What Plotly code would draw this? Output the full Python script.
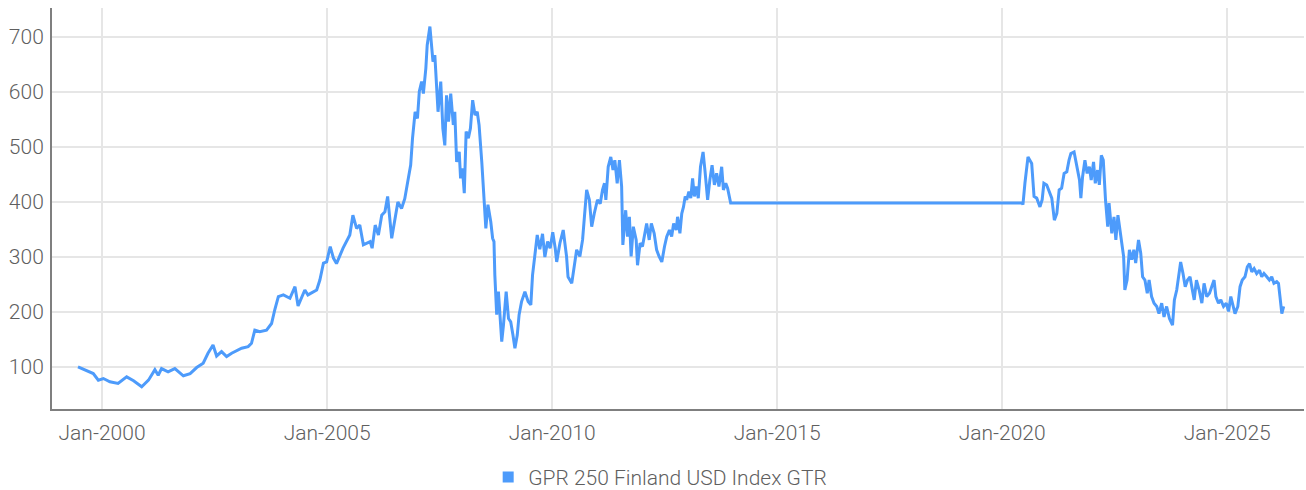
import plotly.graph_objects as go

SERIES_NAME = "GPR 250 Finland USD Index GTR"

dates = [
    "1999-06-20", "1999-08-14", "1999-10-22", "1999-12-02", "2000-01-12", "2000-03-05", "2000-05-10",
    "2000-07-19", "2000-09-13", "2000-11-18", "2001-01-12", "2001-03-05", "2001-04-01", "2001-04-28",
    "2001-06-20", "2001-08-14", "2001-10-22", "2001-12-16", "2002-02-07", "2002-04-01", "2002-05-10",
    "2002-06-20", "2002-07-19", "2002-08-28", "2002-10-08", "2002-11-18", "2003-02-07", "2003-04-01",
    "2003-04-28", "2003-05-25", "2003-07-04", "2003-08-28", "2003-10-08", "2003-11-03", "2003-12-02",
    "2004-01-12", "2004-03-05", "2004-04-15", "2004-05-10", "2004-07-04", "2004-07-29", "2004-10-08",
    "2004-11-03", "2004-12-02", "2004-12-28", "2005-01-26", "2005-02-21", "2005-03-18", "2005-05-10",
    "2005-07-04", "2005-07-29", "2005-08-28", "2005-09-23", "2005-10-22", "2005-12-16", "2006-01-01",
    "2006-01-26", "2006-02-21", "2006-03-20", "2006-04-15", "2006-05-07", "2006-06-09", "2006-07-04",
    "2006-07-29", "2006-08-28", "2006-09-23", "2006-10-22", "2006-11-10", "2006-11-25", "2006-12-16",
    "2007-01-04", "2007-01-19", "2007-02-07", "2007-02-21", "2007-03-13", "2007-03-24", "2007-04-15",
    "2007-04-28", "2007-05-10", "2007-05-25", "2007-06-09", "2007-06-20", "2007-07-12", "2007-07-29",
    "2007-08-14", "2007-08-28", "2007-09-13", "2007-10-01", "2007-10-22", "2007-11-03", "2007-11-18",
    "2007-12-09", "2007-12-20", "2008-01-04", "2008-01-19", "2008-02-03", "2008-02-21", "2008-03-09",
    "2008-03-27", "2008-04-15", "2008-05-03", "2008-05-18", "2008-06-09", "2008-06-27", "2008-07-12",
    "2008-07-29", "2008-08-21", "2008-09-05", "2008-09-16", "2008-09-23", "2008-10-08", "2008-10-22",
    "2008-11-03", "2008-11-18", "2008-12-02", "2008-12-24", "2009-01-12", "2009-01-30", "2009-02-17",
    "2009-03-05", "2009-03-24", "2009-04-08", "2009-04-28", "2009-05-25", "2009-06-20", "2009-07-12",
    "2009-07-26", "2009-08-14", "2009-09-02", "2009-09-23", "2009-10-15", "2009-11-03", "2009-11-25",
    "2009-12-16", "2010-01-06", "2010-01-26", "2010-02-07", "2010-03-05", "2010-04-01", "2010-04-28",
    "2010-05-10", "2010-06-09", "2010-06-27", "2010-07-19", "2010-08-14", "2010-09-05", "2010-09-20",
    "2010-10-08", "2010-10-30", "2010-11-18", "2010-12-09", "2011-01-04", "2011-01-26", "2011-02-14",
    "2011-03-02", "2011-03-13", "2011-04-01", "2011-04-22", "2011-05-10", "2011-05-25", "2011-06-13",
    "2011-07-01", "2011-07-19", "2011-07-29", "2011-08-21", "2011-09-05", "2011-09-20", "2011-10-04",
    "2011-10-22", "2011-11-14", "2011-11-25", "2011-12-16", "2012-01-04", "2012-01-26", "2012-02-07",
    "2012-02-28", "2012-03-16", "2012-04-08", "2012-04-28", "2012-05-18", "2012-06-09", "2012-07-01",
    "2012-07-19", "2012-08-10", "2012-08-28", "2012-09-13", "2012-10-04", "2012-10-15", "2012-11-03",
    "2012-11-18", "2012-12-02", "2012-12-16", "2012-12-28", "2013-01-15", "2013-01-30", "2013-02-14",
    "2013-02-28", "2013-03-16", "2013-04-01", "2013-04-19", "2013-05-10", "2013-05-25", "2013-06-16",
    "2013-07-04", "2013-07-22", "2013-08-10", "2013-08-28", "2013-09-16", "2013-10-08", "2013-10-22",
    "2013-11-10", "2013-11-25", "2013-12-13", "2013-12-20", "2020-06-12", "2020-06-18", "2020-07-04",
    "2020-07-29", "2020-08-28", "2020-09-16", "2020-10-08", "2020-11-03", "2020-11-21", "2020-12-05",
    "2020-12-28", "2021-01-19", "2021-02-07", "2021-02-28", "2021-03-20", "2021-04-08", "2021-04-28",
    "2021-05-18", "2021-06-09", "2021-06-27", "2021-07-12", "2021-08-07", "2021-08-28", "2021-09-20",
    "2021-10-01", "2021-10-15", "2021-11-03", "2021-11-21", "2021-12-09", "2021-12-24", "2022-01-12",
    "2022-01-26", "2022-02-14", "2022-02-28", "2022-03-16", "2022-04-01", "2022-04-19", "2022-05-07",
    "2022-05-18", "2022-06-09", "2022-06-27", "2022-07-12", "2022-07-29", "2022-08-21", "2022-09-13",
    "2022-09-23", "2022-10-11", "2022-10-30", "2022-11-18", "2022-12-05", "2022-12-20", "2023-01-12",
    "2023-01-30", "2023-02-14", "2023-03-05", "2023-03-24", "2023-04-08", "2023-04-28", "2023-05-18",
    "2023-06-09", "2023-06-27", "2023-07-19", "2023-08-07", "2023-08-28", "2023-09-20", "2023-10-15",
    "2023-10-30", "2023-11-18", "2023-12-09", "2023-12-20", "2024-01-08", "2024-01-26", "2024-02-14",
    "2024-03-05", "2024-03-24", "2024-04-08", "2024-04-26", "2024-05-18", "2024-06-09", "2024-06-27",
    "2024-07-19", "2024-08-10", "2024-08-28", "2024-09-16", "2024-10-01", "2024-10-22", "2024-11-10",
    "2024-12-02", "2024-12-24", "2025-01-12", "2025-01-30", "2025-02-17", "2025-03-05", "2025-03-28",
    "2025-04-15", "2025-05-03", "2025-05-25", "2025-06-13", "2025-07-01", "2025-07-19", "2025-08-07",
    "2025-08-28", "2025-09-20", "2025-10-08", "2025-10-26", "2025-11-18", "2025-12-09", "2025-12-28",
    "2026-01-15", "2026-02-07", "2026-02-21", "2026-03-05", "2026-03-20", "2026-04-04",
]

values = [
    100, 95, 88, 76, 79, 73, 70,
    82, 75, 64, 76, 95, 85, 97,
    91, 97, 84, 88, 99, 107, 125,
    140, 120, 128, 119, 125, 134, 137,
    143, 167, 164, 167, 179, 204, 228,
    231, 225, 246, 211, 240, 231, 240,
    258, 289, 291, 319, 298, 288, 316,
    340, 376, 352, 358, 322, 328, 316,
    358, 340, 376, 382, 410, 334, 364,
    400, 388, 406, 443, 467, 516, 564,
    552, 601, 619, 597, 643, 685, 719,
    692, 655, 667, 601, 564, 619, 534,
    503, 594, 546, 597, 540, 564, 473,
    491, 443, 461, 416, 528, 516, 534,
    585, 558, 564, 540, 473, 410, 352,
    395, 364, 334, 328, 267, 195, 237,
    188, 146, 176, 237, 188, 182, 158,
    134, 158, 195, 219, 237, 219, 213,
    267, 304, 340, 314, 342, 300, 328,
    316, 345, 316, 291, 325, 349, 301,
    264, 252, 276, 313, 301, 331, 373,
    422, 404, 355, 379, 404, 397, 422,
    434, 404, 464, 482, 458, 476, 434,
    476, 428, 322, 385, 337, 373, 301,
    355, 331, 285, 325, 319, 349, 361,
    331, 361, 343, 313, 301, 291, 319,
    337, 349, 337, 361, 349, 373, 343,
    379, 391, 410, 404, 419, 407, 443,
    410, 428, 407, 464, 491, 458, 404,
    440, 467, 431, 452, 428, 464, 422,
    434, 425, 401, 398, 398, 395, 434,
    482, 470, 410, 407, 391, 404, 434,
    431, 416, 407, 367, 379, 422, 425,
    452, 455, 476, 488, 491, 464, 440,
    407, 446, 476, 452, 464, 440, 473,
    434, 458, 431, 485, 476, 404, 355,
    398, 343, 373, 331, 376, 337, 301,
    240, 258, 313, 295, 313, 289, 331,
    307, 264, 258, 234, 258, 228, 216,
    210, 197, 216, 191, 210, 188, 176,
    222, 240, 270, 291, 270, 246, 258,
    264, 240, 222, 258, 240, 216, 252,
    228, 234, 246, 258, 228, 216, 222,
    210, 216, 201, 228, 210, 197, 210,
    246, 258, 264, 282, 288, 273, 279,
    270, 276, 264, 270, 264, 258, 264,
    252, 255, 252, 228, 197, 210,
]

x_range = ["1998-11-21", "2026-09-16"]
y_range = [23.6, 752.7]
y_ticks = [100, 200, 300, 400, 500, 600, 700]

LINE_COLOR = "#4d9bfb"
TEXT_COLOR = "#5f5f5f"
GRID_COLOR = "#e6e6e6"
FONT = "Roboto"

fig = go.Figure()
fig.add_trace(go.Scatter(
    x=dates, y=values, mode="lines", name=SERIES_NAME,
    line=dict(color=LINE_COLOR, width=3), showlegend=False,
))
fig.add_trace(go.Scatter(
    x=[None], y=[None], mode="markers", name=SERIES_NAME,
    marker=dict(symbol="square", size=11, color=LINE_COLOR), showlegend=True,
))

fig.update_layout(
    width=1306, height=490,
    margin=dict(l=52, r=2, t=8, b=81),
    paper_bgcolor="white", plot_bgcolor="white",
    font=dict(family=FONT, size=21, color=TEXT_COLOR, weight=300),
    legend=dict(orientation="h", xref="container", x=0.5055, xanchor="center",
                yref="container", y=0.026, yanchor="middle",
                font=dict(size=21, color=TEXT_COLOR, weight=300), itemwidth=30, tracegroupgap=0),
    xaxis=dict(
        type="date", range=x_range, tick0="2000-01-01", dtick="M60", tickformat="%b-%Y",
        showgrid=True, gridcolor=GRID_COLOR, gridwidth=2, automargin=False,
        showline=True, linecolor="#7f7f7f", linewidth=2, ticks="", zeroline=False,
        ticklabelstandoff=4,
    ),
    yaxis=dict(
        range=y_range, tickvals=y_ticks, showgrid=True, gridcolor=GRID_COLOR, gridwidth=2,
        showline=True, linecolor="#7f7f7f", linewidth=2, ticks="", zeroline=False,
        ticklabelstandoff=2, automargin=False,
    ),
)

fig.write_html("out.html", config={"displayModeBar": False},
               post_script="document.body.style.margin='0';")
